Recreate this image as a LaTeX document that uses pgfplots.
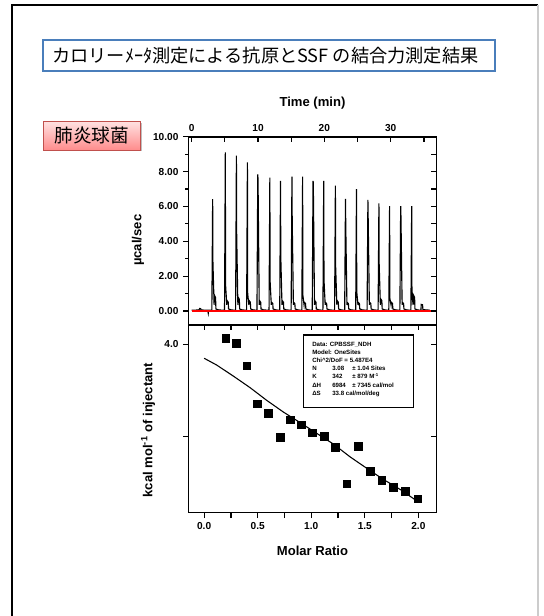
\documentclass[border=0pt]{standalone}
\usepackage{pgfplots}
\pgfplotsset{compat=1.18}
\usepackage{fontspec}
\setmainfont{Liberation Sans}
\newfontfamily\cjk{Noto Sans CJK JP}
\definecolor{titleblue}{HTML}{4A7EBB}
\definecolor{boxred}{HTML}{C0504D}
\begin{document}
\begin{tikzpicture}[x=0.75pt,y=0.75pt]
\useasboundingbox (0,0) rectangle (543,616);
% slide frame
\draw[line width=1.1pt,black] (12,-5) -- (12,611) -- (538,611);
\draw[line width=0.8pt,black!20] (538,611) -- (538,-5);
% title box
\draw[titleblue,line width=1.5pt,fill=white] (43.3,576) rectangle (495,545.3);
\node[anchor=west,inner sep=0pt,font=\cjk\fontsize{13.65}{16}\selectfont] at (52,560.7) {カロリーﾒｰﾀ測定による抗原とSSF の結合力測定結果};
% red label box
\fill[black!25] (44.8,492.5) rectangle (142.2,464.5);
\shade[top color=red!12,bottom color=red!45] (43,494.3) rectangle (140.7,466);
\draw[boxred,line width=0.7pt] (43,494.3) rectangle (140.7,466);
\node[inner sep=0pt,font=\cjk\fontsize{14}{16}\selectfont] at (91.8,480.2) {肺炎球菌};

% ---------- upper plot (thermogram) ----------
\begin{axis}[
  at={(141.375pt,218.25pt)}, anchor=south west,
  scale only axis, width=186pt, height=141.2pt,
  xmin=-0.48, xmax=36.9, ymin=-0.8, ymax=10.0,
  axis line style={line width=1.2pt},
  tick style={line width=0.9pt,black},
  major tick length=4pt, minor tick length=2.5pt,
  tick align=outside,
  xtick=\empty,
  ytick pos=left,
  ytick={0,2,4,6,8,10},
  yticklabels={0.00,2.00,4.00,6.00,8.00,10.00},
  minor ytick={1,3,5,7,9},
  /pgf/number format/assume math mode=true,
  tick label style={font=\bfseries\fontsize{7.6}{9}\selectfont},
  ylabel={µcal/sec},
  ylabel style={at={(axis description cs:-0.204,0.45)},anchor=center,font=\bfseries\fontsize{9.8}{11}\selectfont},
  clip=true,
]
\addplot[black,line width=0.85pt] coordinates {
(0.0,0.05) (1.1,0.06) (1.2,0.15) (1.35,0.14) (1.4,0.06) (2.4,0.05) (2.5,-0.13) (2.55,0.05)
(3.04,0.05) (3.16,6.42) (3.20,2.83) (3.38,0.35) (3.42,0.92) (3.60,0.78) (3.65,0.12) (4.08,0.06)
(4.95,0.05) (5.07,9.10) (5.11,1.49) (5.29,0.35) (5.33,0.60) (5.51,0.51) (5.56,0.12) (5.99,0.06)
(6.62,0.05) (6.74,8.91) (6.78,4.45) (6.96,0.35) (7.00,0.80) (7.18,0.68) (7.23,0.12) (7.66,0.06)
(8.28,0.05) (8.40,8.53) (8.44,1.00) (8.62,0.35) (8.66,0.60) (8.84,0.51) (8.89,0.12) (9.32,0.06)
(9.84,0.05) (9.96,7.84) (10.00,7.55) (10.18,0.35) (10.22,0.60) (10.40,0.51) (10.45,0.12) (10.88,0.06)
(11.66,0.05) (11.78,7.65) (11.82,1.72) (12.00,0.35) (12.04,0.50) (12.22,0.43) (12.27,0.12) (12.70,0.06)
(13.27,0.05) (13.39,7.46) (13.43,3.12) (13.61,0.35) (13.65,0.60) (13.83,0.51) (13.88,0.12) (14.31,0.06)
(14.99,0.05) (15.11,7.71) (15.15,5.28) (15.33,0.35) (15.37,0.50) (15.55,0.43) (15.60,0.12) (16.03,0.06)
(16.60,0.05) (16.72,7.71) (16.76,0.90) (16.94,0.35) (16.98,0.50) (17.16,0.43) (17.21,0.12) (17.64,0.06)
(18.17,0.05) (18.29,7.46) (18.33,7.38) (18.51,0.35) (18.55,0.60) (18.73,0.51) (18.78,0.12) (19.21,0.06)
(19.78,0.05) (19.90,7.46) (19.94,1.82) (20.12,0.35) (20.16,0.50) (20.34,0.43) (20.39,0.12) (20.82,0.06)
(21.54,0.05) (21.66,7.19) (21.70,2.54) (21.88,0.35) (21.92,0.60) (22.10,0.51) (22.15,0.12) (22.58,0.06)
(23.06,0.05) (23.18,6.44) (23.22,4.99) (23.40,0.35) (23.44,0.50) (23.62,0.43) (23.67,0.12) (24.10,0.06)
(24.72,0.05) (24.84,7.00) (24.88,1.11) (25.06,0.35) (25.10,0.50) (25.28,0.43) (25.33,0.12) (25.76,0.06)
(26.44,0.05) (26.56,6.37) (26.60,5.37) (26.78,0.35) (26.82,0.50) (27.00,0.43) (27.05,0.12) (27.48,0.06)
(28.10,0.05) (28.22,6.18) (28.26,2.68) (28.44,0.35) (28.48,0.70) (28.66,0.60) (28.71,0.12) (29.14,0.06)
(29.71,0.05) (29.83,6.02) (29.87,0.73) (30.05,0.35) (30.09,0.50) (30.27,0.43) (30.32,0.12) (30.75,0.06)
(31.38,0.05) (31.50,6.02) (31.54,5.47) (31.72,0.35) (31.76,0.50) (31.94,0.43) (31.99,0.12) (32.42,0.06)
(33.04,0.05) (33.16,6.02) (33.20,0.92) (33.38,0.35) (33.42,0.92) (33.60,0.78) (33.65,0.12) (34.08,0.06)
(34.55,0.05) (34.60,0.38) (34.80,0.36) (34.85,0.08) (35.90,0.05)
};
\addplot[red,line width=1.1pt] coordinates {(0.0,0) (36.6,0)};
\end{axis}
% overlay for top/right ticks of upper plot
\begin{axis}[
  at={(141.375pt,218.25pt)}, anchor=south west,
  scale only axis, width=186pt, height=141.2pt,
  xmin=-0.48, xmax=36.9, ymin=-0.8, ymax=10.0,
  axis line style={line width=1.2pt},
  tick style={line width=0.9pt,black},
  major tick length=4pt, minor tick length=4pt,
  tick align=inside,
  xtick pos=right, xticklabel pos=right,
  xtick={0,10,20,30}, minor xtick={5,15,25,35},
  xticklabels={0,10,20,30},
  ytick pos=right, ytick={0,1,...,10}, yticklabels={},
  /pgf/number format/assume math mode=true,
  tick label style={font=\bfseries\fontsize{7.6}{9}\selectfont},
  xlabel={Time (min)},
  xlabel style={at={(axis description cs:0.5,1)},anchor=center,yshift=25.3pt,font=\bfseries\fontsize{9.8}{11}\selectfont},
]
\end{axis}

% ---------- lower plot (binding isotherm) ----------
\begin{axis}[
  at={(141.375pt,77.475pt)}, anchor=south west,
  scale only axis, width=186pt, height=140.8pt,
  xmin=-0.146, xmax=2.169, ymin=3.089, ymax=4.104,
  axis line style={line width=1.2pt},
  tick style={line width=0.9pt,black},
  major tick length=4pt, minor tick length=4pt,
  tick align=outside,
  xtick pos=left, ytick pos=left,
  xtick={0,0.5,1,1.5,2}, xticklabels={0.0,0.5,1.0,1.5,2.0},
  minor xtick={0.25,0.75,1.25,1.75},
  ytick={3.5,4.0}, yticklabels={,4.0},
  /pgf/number format/assume math mode=true,
  tick label style={font=\bfseries\fontsize{7.6}{9}\selectfont},
  xlabel={Molar Ratio},
  xlabel style={at={(axis description cs:0.5,0)},anchor=center,yshift=-28.7pt,font=\bfseries\fontsize{9.8}{11}\selectfont},
  ylabel={kcal mol\textsuperscript{-1} of injectant},
  ylabel style={at={(axis description cs:-0.163,0.44)},anchor=center,font=\bfseries\fontsize{9.8}{11}\selectfont},
]
\addplot[black,line width=0.8pt] coordinates {
(0.000,3.924) (0.118,3.887) (0.274,3.827) (0.429,3.765) (0.585,3.696) (0.740,3.633)
(0.896,3.576) (1.051,3.518) (1.207,3.460) (1.362,3.391) (1.518,3.329) (1.673,3.269)
(1.829,3.215) (2.000,3.147)
};
\addplot[only marks,mark=square*,mark size=2.8pt,black] coordinates {
(0.202,4.033) (0.299,4.004) (0.398,3.882) (0.498,3.678) (0.600,3.627) (0.709,3.496)
(0.806,3.591) (0.905,3.565) (1.011,3.520) (1.120,3.502) (1.226,3.442) (1.331,3.245)
(1.440,3.447) (1.549,3.313) (1.658,3.264) (1.767,3.227) (1.876,3.205) (1.994,3.165)
};
\end{axis}
\begin{axis}[
  at={(141.375pt,77.475pt)}, anchor=south west,
  scale only axis, width=186pt, height=140.8pt,
  xmin=-0.146, xmax=2.169, ymin=3.089, ymax=4.104,
  axis line style={line width=1.2pt},
  tick style={line width=0.9pt,black},
  major tick length=4pt, minor tick length=4pt,
  tick align=inside,
  xtick pos=right, ytick pos=right,
  xtick={0,0.5,1,1.5,2}, minor xtick={0.25,0.75,1.25,1.75}, xticklabels={},
  ytick={3.5,4.0}, yticklabels={},
]
\end{axis}
% fit parameter box
\draw[line width=1.1pt,fill=white] (303.3,281) rectangle (413.3,208.3);
\node[anchor=north west,inner sep=0pt,align=left,font=\bfseries\fontsize{4.6}{6.15}\selectfont] at (312,274.5) {%
Data: CPBSSF\_NDH\\
Model: OneSites\\
Chi\textasciicircum 2/DoF = 5.487E4\\
\makebox[15pt][l]{N}\makebox[15pt][l]{3.08}±\ 1.04 Sites\\
\makebox[15pt][l]{K}\makebox[15pt][l]{342}±\ 879 M\textsuperscript{-1}\\
\makebox[15pt][l]{ΔH}\makebox[15pt][l]{6984}±\ 7345 cal/mol\\
\makebox[15pt][l]{ΔS}33.8 cal/mol/deg};
\end{tikzpicture}
\end{document}
